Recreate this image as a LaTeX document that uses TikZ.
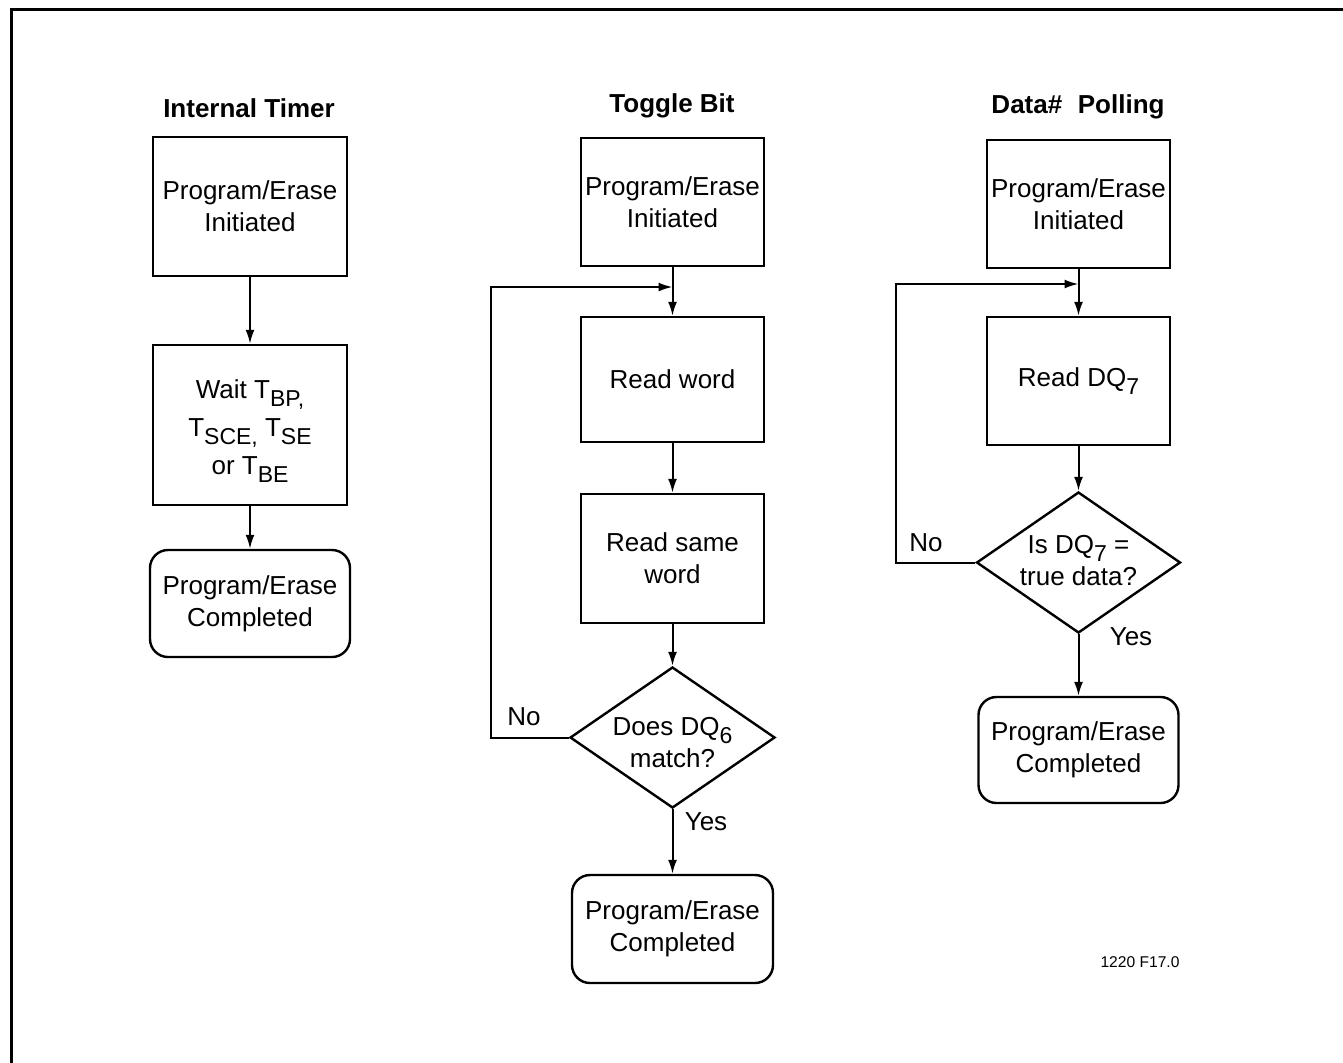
\documentclass[tikz,border=0pt]{standalone}
\usepackage{fontspec}
\setmainfont{Liberation Sans}
\usetikzlibrary{arrows.meta,shapes.geometric}
\newcommand\sbs[1]{\raisebox{-3.8pt}{\fontsize{11.5pt}{11.5pt}\selectfont #1}}
\begin{document}
\begin{tikzpicture}[x=0.5pt,y=-0.5pt,
  txt/.style={font=\fontsize{13pt}{16pt}\selectfont,align=center,inner sep=0pt},
  box/.style={txt,draw,line width=1.2pt},
  rbox/.style={box,rounded corners=9pt},
  dia/.style={draw,line width=1.2pt,diamond,inner sep=0pt,shape aspect=1},
  ttl/.style={font=\fontsize{13pt}{16pt}\selectfont\bfseries,inner sep=0pt},
  lbl/.style={font=\fontsize{13pt}{16pt}\selectfont,inner sep=0pt},
  arr/.style={line width=1pt,-{Latex[length=7pt,width=4.5pt]}},
  ln/.style={line width=1pt}]
\useasboundingbox (0,0) rectangle (1343,1062);
% frame
\draw[line width=1.5pt] (11,1070) -- (11,9) -- (1350,9);

% Internal Timer
\node[ttl] (tt) at (249,108) {Internal Timer};
\node[box,minimum width=97pt,minimum height=69.5pt] (t1) at (250,206.5) {Program/Erase\\Initiated};
\node[box,minimum width=97pt,minimum height=80pt] (t2) at (250,425) {};
\node[txt,font=\fontsize{13pt}{19pt}\selectfont] (t2t) at (250,431) {Wait T\sbs{BP,}\\T\sbs{SCE,} T\sbs{SE}\\or T\sbs{BE}};
\node[rbox,minimum width=100pt,minimum height=53.5pt] (t3) at (250,603.5) {Program/Erase\\Completed};
\draw[arr] (t1.south) -- (t2.north);
\draw[arr] (t2.south) -- (t3.north);

% Toggle Bit
\node[ttl] (gt) at (672,106) {Toggle Bit};
\node[box,minimum width=91.5pt,minimum height=64pt] (g1) at (672.5,202) {Program/Erase\\Initiated};
\node[box,minimum width=91.5pt,minimum height=62.5pt] (g2) at (672.5,379.5) {Read word};
\node[box,minimum width=91.5pt,minimum height=64.5pt] (g3) at (672.5,558.5) {Read same\\word};
\node[dia,minimum width=102.5pt,minimum height=70.5pt] (gd) at (672.5,737.5) {};
\node[txt] (gdt) at (672.5,743) {Does DQ\sbs{6}\\match?};
\node[rbox,minimum width=100.5pt,minimum height=54pt] (g4) at (672.5,929) {Program/Erase\\Completed};
\coordinate (gl) at (491,287);
\coordinate (gm) at (672.5,287);
\draw[arr] (g1.south) -- (g2.north);
\draw[arr] (g2.south) -- (g3.north);
\draw[arr] (g3.south) -- (gd.north);
\draw[arr] (gd.south) -- (g4.north);
\draw[arr] (gd.west) -| (gl) -- (gm);
\node[lbl] (gno) at (524,717) {No};
\node[lbl] (gyes) at (706,822) {Yes};

% Data# Polling
\node[ttl] (pt) at (1078,107) {Data\#\hspace{0.6em}Polling};
\node[box,minimum width=91.5pt,minimum height=64pt] (p1) at (1078.5,204) {Program/Erase\\Initiated};
\node[box,minimum width=91.5pt,minimum height=64pt] (p2) at (1078.5,381) {Read DQ\sbs{7}};
\node[dia,minimum width=102pt,minimum height=70.5pt] (pd) at (1078.5,562.5) {};
\node[txt] (pdt) at (1078.5,561) {Is DQ\sbs{7} =\\true data?};
\node[rbox,minimum width=100pt,minimum height=53pt] (p3) at (1078.5,750) {Program/Erase\\Completed};
\coordinate (pl) at (896,284);
\coordinate (pm) at (1078.5,284);
\draw[arr] (p1.south) -- (p2.north);
\draw[arr] (p2.south) -- (pd.north);
\draw[arr] (pd.south) -- (p3.north);
\draw[arr] (pd.west) -| (pl) -- (pm);
\node[lbl] (pno) at (926,543) {No};
\node[lbl] (pyes) at (1131,637) {Yes};

\node[font=\fontsize{7.8pt}{9pt}\selectfont,inner sep=0pt] (fig) at (1140,962) {1220 F17.0};
\end{tikzpicture}
\end{document}
